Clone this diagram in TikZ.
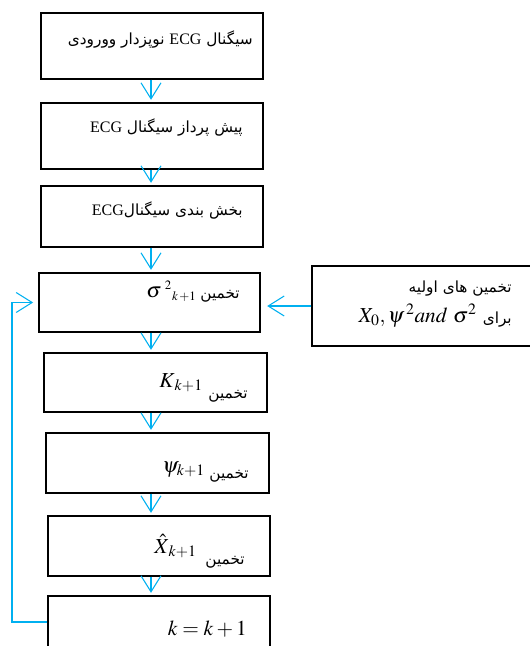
\documentclass[tikz,border=0pt]{standalone}
\usepackage{mathptmx}
\usepackage{fontspec}
\setmainfont{Liberation Serif}
\newfontfamily\arabicfont[Script=Arabic]{DejaVu Sans}
\TeXXeTstate=1
\usetikzlibrary{arrows.meta,calc}
\definecolor{arrowblue}{RGB}{0,176,240}
\newcommand{\fa}[1]{{\arabicfont\fontsize{11.5}{13}\selectfont\beginR #1\endR}}
\newcommand{\ecg}{\beginL{\rmfamily\fontsize{12}{14}\selectfont ECG}\endL}

\begin{document}
\begin{tikzpicture}[x=0.75pt,y=-0.75pt,
    box/.style 2 args={draw,line width=0.8pt,rectangle,inner sep=0pt,minimum width=#1*0.75pt,minimum height=#2*0.75pt},
    arr/.style={draw=arrowblue,line width=0.8pt,-{Straight Barb[length=12pt,width=15pt]}},
    txt/.style={inner sep=0pt,anchor=base east},
    mth/.style={inner sep=0pt,anchor=base west,font=\fontsize{16}{18}\selectfont}]
      \useasboundingbox (0,0) rectangle (530,646);
      \coordinate (ax) at (151,0);
      \coordinate (fb) at (12,0);
      \node[box={222}{66}] (b1) at (152,46) {};
      \node[box={222}{66}] (b2) at (152,136) {};
      \node[box={222}{61}] (b3) at (152,216.5) {};
      \node[box={221}{59}] (b4) at (149.5,302.5) {};
      \node[box={223}{59}] (b5) at (155.5,382.5) {};
      \node[box={223}{60}] (b6) at (157.5,463) {};
      \node[box={222}{60}] (b7) at (159,546) {};
      \node[box={222}{52}] (b8) at (159,622) {};
      \node[box={220}{80}] (init) at (422,306) {};
      \node[txt] (t1) at (253,44) {\fa{سیگنال \ecg{} نوپزدار وورودی}};
      \node[txt] (t2) at (243,132) {\fa{پیش پرداز سیگنال \ecg}};
      \node[txt] (t3) at (243,215) {\fa{بخش بندی سیگنال\ecg}};
      \node[txt] (t4) at (240,298) {\fa{تخمین}};
      \node[mth] (m4) at (146,297) {$\sigma^{\;\scriptscriptstyle 2}{}_{\scriptscriptstyle k\,+1}$};
      \node[mth] (m5) at (159,387) {$K_{\,k+1}$};
      \node[txt] (t5) at (248,398) {\fa{تخمین}};
      \node[mth] (m6) at (162,472) {$\psi_{k+1}$};
      \node[txt] (t6) at (249,478) {\fa{تخمین}};
      \node[mth] (m7) at (154,553) {$\hat{X}_{\,k+1}$};
      \node[txt] (t7) at (245,564) {\fa{تخمین}};
      \node[mth,anchor=base east] (m8) at (247,635) {$k=k+1$};
      \node[txt] (i1) at (512,292) {\fa{تخمین های اولیه}};
      \node[txt] (i2) at (512,323) {\fa{برای}};
      \node[mth,anchor=base east] (i3) at (477,322) {$X_0,\psi^{\,2}and\ \sigma^2$};
      \foreach \a/\b in {b1/b2,b2/b3,b3/b4,b4/b5,b5/b6,b6/b7,b7/b8}
        \draw[arr,shorten >=2pt] (\a.south -| ax) -- (\b.north -| ax);
      \draw[arr,shorten >=5pt] (init.west) -- (init.west -| b4.east);
      \draw[arr,shorten >=4pt] (b8.west) -- (b8.west -| fb) -- (b4.west -| fb) -- (b4.west);
   \end{tikzpicture}
\end{document}
